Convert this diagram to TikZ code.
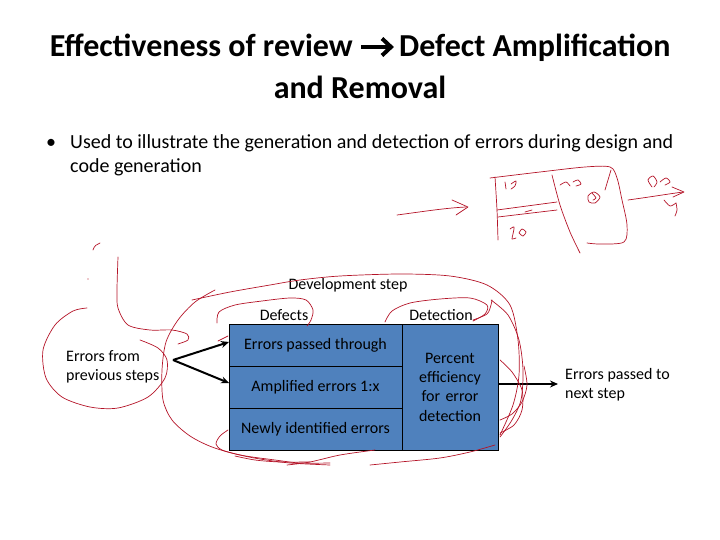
\documentclass[tikz,border=0pt]{standalone}
\usepackage{fontspec}
\setmainfont{Carlito}
\usetikzlibrary{arrows.meta}
\definecolor{boxblue}{RGB}{79,129,189}
\definecolor{ink}{RGB}{180,20,40}
\tikzset{
  lbl/.style={font=\fontsize{16}{19.3}\selectfont, align=center, inner sep=0pt},
  titletext/.style={inner sep=0pt, font=\fontsize{32}{38}\selectfont\bfseries},
  bodytext/.style={inner sep=0pt, font=\fontsize{20}{24}\selectfont},
  cellbox/.style={draw=black, line width=0.9pt, fill=boxblue},
  flow/.style={draw=black, line width=2pt, -{Stealth[length=8pt,width=7pt]}},
  scribble/.style={draw=ink, line width=0.7pt, line cap=round, line join=round}
}
\begin{document}
\begin{tikzpicture}[x=1pt,y=-1pt]
\useasboundingbox (0,0) rectangle (720,540);
% title
\node[titletext, anchor=base east] (t1a) at (353,57) {Effectiveness of review};
\node[titletext, anchor=base west] (t1b) at (399,57) {Defect Amplification};
\coordinate (ta1) at (361,47);
\coordinate (ta2) at (389,47);
\draw[line width=4pt] (ta1) -- (ta2);
\draw[line width=4pt, line join=miter, miter limit=10] (382,38.5) -- (391,47) -- (382,55.5);
\node[titletext, anchor=base] (t2) at (360,99) {and Removal};
% bullet
\node[bodytext, anchor=base west] (bul) at (46,149) {•};
\node[bodytext, anchor=base west] (b1) at (70,149) {Used to illustrate the generation and detection of errors during design and};
\node[bodytext, anchor=base west] (b2) at (70,173) {code generation};
% boxes
\path[cellbox] (229,324) rectangle (402,366);
\path[cellbox] (229,366) rectangle (402,408);
\path[cellbox] (229,408) rectangle (402,450);
\path[cellbox] (402,324) rectangle (498,450);
\node[lbl] (c1) at (315.5,345) {Errors passed through};
\node[lbl] (c2) at (315.5,387) {Amplified errors 1:x};
\node[lbl] (c3) at (315.5,429) {Newly identified errors};
\node[lbl, text width=90pt] (c4) at (450,387) {Percent\\efficiency\\for error\\detection};
\coordinate (c1w) at (229,342);
\coordinate (c2w) at (229,383);
\coordinate (c4e) at (498,384);
% labels
\node[lbl] (dev) at (348,285) {Development step};
\node[lbl] (def) at (284,315) {Defects};
\node[lbl] (det) at (441,315) {Detection};
\node[lbl, align=left, anchor=west] (prev) at (66,367) {Errors from\\previous steps};
\node[lbl, align=left, anchor=west] (next) at (565,385) {Errors passed to\\next step};
\coordinate (src) at (173,360);
\coordinate (nxt) at (558,384);
% arrows
\draw[flow] (src) -- (c1w);
\draw[flow] (src) -- (c2w);
\draw[flow] (c4e) -- (nxt);
% red scribbles: top right sketch
\draw[scribble] (397,215) .. controls (420,212) and (445,208) .. (466,207);
\draw[scribble] (452,200) -- (468,207) -- (456,215);
\draw[scribble] plot[smooth] coordinates {(490,178) (540,172) (585,167) (610,167) (617,178) (622,200) (627,225) (624,242) (600,244) (587,243)};
\draw[scribble] plot[smooth] coordinates {(495,177) (497,210) (498,240)};
\draw[scribble] (497,210) -- (557,202);
\draw[scribble] (498,217) -- (557,210);
\draw[scribble] plot[smooth] coordinates {(552,175) (560,205) (570,232) (580,253)};
\draw[scribble] (611,170) -- (605,190);
\draw[scribble] plot[smooth] coordinates {(505,182) (506,189)};
\draw[scribble] plot[smooth] coordinates {(511,184) (516,181) (515,186) (511,189)};
\draw[scribble] plot[smooth] coordinates {(510,229) (514,227) (513,234) (512,239) (516,238)};
\draw[scribble] plot[smooth] coordinates {(519,233) (522,229) (526,232) (523,236) (519,233)};
\draw[scribble] plot[smooth] coordinates {(560,185) (566,182) (570,186)};
\draw[scribble] plot[smooth] coordinates {(573,182) (578,180) (581,184) (576,186)};
\draw[scribble] plot[smooth cycle] coordinates {(588,196) (594,192) (600,197) (595,203) (589,202)};
\draw[scribble] plot[smooth] coordinates {(592,193) (596,198) (593,200)};
\draw[scribble] (525,212) -- (532,210);
\draw[scribble] (628,200) .. controls (650,197) and (668,194) .. (683,192);
\draw[scribble] (672,187) -- (684,192) -- (673,197);
\draw[scribble] plot[smooth] coordinates {(652,187) (648,180) (653,176) (657,182) (654,187)};
\draw[scribble] plot[smooth] coordinates {(660,182) (666,178) (670,182) (665,185)};
\draw[scribble] plot[smooth] coordinates {(664,200) (670,206) (676,203)};
\draw[scribble] plot[smooth] coordinates {(676,203) (677,210) (675,216)};
% red scribbles: left
\draw[scribble] (93,250) .. controls (94,246) and (97,244) .. (100,243);
\fill[ink] (88,279) circle (0.6pt);
\draw[scribble] plot[smooth] coordinates {(118,257) (117,290) (118,308) (128,325) (150,330) (172,330) (187,334) (188,340) (178,344)};
\draw[scribble] plot[smooth] coordinates {(87,308) (73,311) (55,325) (43,350) (46,378) (62,397) (90,407) (118,408) (148,397) (165,378) (167,360) (158,348) (140,340)};
\draw[scribble] plot[smooth] coordinates {(215,290) (195,302) (178,320) (166,342) (162,370) (163,400) (172,420) (190,436) (212,447) (240,455) (275,460) (300,463) (330,463)};
\draw[scribble] plot[smooth] coordinates {(192,300) (230,292) (270,285) (300,280) (340,276) (400,274) (450,276) (487,285) (510,305) (518,340) (519,375) (513,405) (500,435)};
\draw[scribble] plot[smooth] coordinates {(217,323) (219,312) (235,305) (262,301) (290,298) (306,300) (313,310) (311,320) (307,326)};
\draw[scribble] plot[smooth] coordinates {(385,322) (392,311) (410,303) (440,299) (470,298) (487,305) (485,314) (473,321)};
\draw[scribble] plot[smooth] coordinates {(473,320) (487,314) (491,305) (492,300)};
\draw[scribble] plot[smooth] coordinates {(491,300) (508,315) (519,340) (523,370) (521,400) (512,420) (500,437)};
\draw[scribble] plot[smooth] coordinates {(500,360) (512,372) (522,390) (522,410) (514,425) (500,433)};
\draw[scribble] plot[smooth] coordinates {(524,366) (527,385) (522,402) (512,414) (500,420)};
\draw[scribble] (218,341) -- (228,336);
% bottom loops
\draw[scribble] plot[smooth] coordinates {(228,430) (220,436) (216,444) (222,450) (240,455) (260,459) (290,463) (330,465)};
\draw[scribble] plot[smooth] coordinates {(235,456) (255,460) (280,462) (310,462)};
\draw[scribble] plot[smooth] coordinates {(287,465) (310,462) (340,455) (375,450)};
\draw[scribble] plot[smooth] coordinates {(370,465) (400,462) (440,458) (470,452) (495,445)};
\end{tikzpicture}
\end{document}
